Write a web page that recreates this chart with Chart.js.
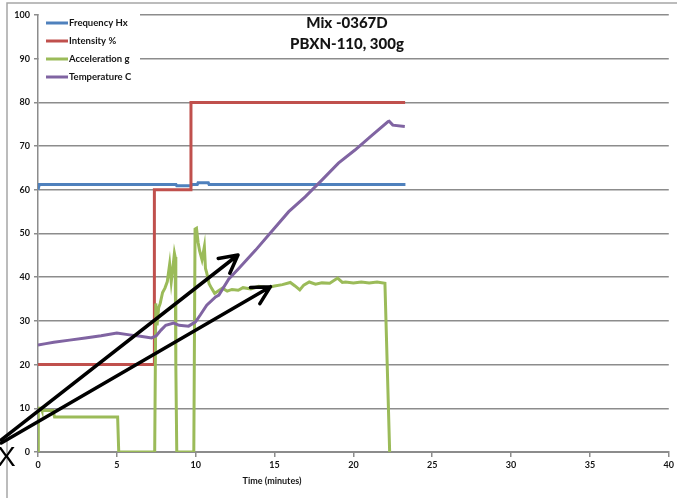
<!DOCTYPE html>
<html>
<head>
<meta charset="utf-8">
<title>Mix -0367D</title>
<script src="https://cdn.jsdelivr.net/npm/chart.js@4/dist/chart.umd.min.js"></script>
<style>
  html, body { margin: 0; padding: 0; background: #fff; }
  canvas { display: block; }
</style>
</head>
<body>
<canvas id="chart" width="677" height="498"></canvas>
<script>
const seriesNames = ['Frequency Hx', 'Intensity %', 'Acceleration g', 'Temperature C'];

// Frequency Hx
const freqTime  = [0, 0.08, 8.75, 8.8, 9.7, 9.75, 10.1, 10.15, 10.8, 10.85, 23.3];
const freqValue = [60, 61.2, 61.2, 60.9, 60.9, 61.2, 61.2, 61.6, 61.6, 61.2, 61.2];

// Intensity %
const intensityTime  = [0, 7.38, 7.38, 9.7, 9.7, 23.28];
const intensityValue = [20, 20, 60, 60, 80, 80];

// Acceleration g
const accelTime = [
  0, 0.02, 0.2, 0.25, 0.95, 1.05, 5.05, 5.12, 7.4, 7.47, 7.55, 7.65, 7.75, 7.9,
  8.05, 8.2, 8.35, 8.45, 8.55, 8.65, 8.7, 8.74, 8.8, 9.88, 9.96, 10.05, 10.15,
  10.25, 10.4, 10.55, 10.62, 10.7, 10.85, 11.0, 11.2, 11.4, 11.7, 12.0, 12.3,
  12.7, 13.0, 13.5, 14.0, 14.5, 15.0, 15.5, 16.0, 16.3, 16.6, 16.85, 17.2, 17.6,
  18.0, 18.5, 19.0, 19.3, 19.5, 20.0, 20.5, 21.0, 21.5, 22.0, 22.3, 22.34, 23.3
];
const accelValue = [
  0, 10, 10, 9.5, 9.5, 8, 8, 0, 0, 34, 29, 33, 34, 36.5,
  37.5, 39, 43, 39, 42, 45.5, 44.6, 20, 0, 0, 51, 51.2, 48,
  46, 44, 47, 42, 41, 38.5, 37.5, 36.3, 36.8, 37.5, 36.8,
  37.2, 37.0, 37.6, 37.3, 37.9, 37.6, 38.0, 38.3, 38.8, 38.0, 37.1, 38.2, 38.9,
  38.4, 38.7, 38.6, 39.8, 38.8, 38.9, 38.7, 38.9, 38.7, 38.9, 38.6, 0, 0
];

// Temperature C
const tempTime = [
  0, 0.5, 1, 2, 3, 4, 5.0, 5.8, 6.5, 7.2, 7.5, 7.8, 8.1, 8.6, 8.95, 9.55,
  9.99, 10.3, 10.7, 11.26, 11.47, 12.1, 12.73, 13.8, 14.8, 15.9, 16.94, 18.0,
  19.05, 20.1, 21.1, 22.2, 22.27, 22.5, 23.26
];
const tempValue = [
  24.5, 24.8, 25.1, 25.6, 26.1, 26.6, 27.2, 26.8, 26.5, 26.1, 26.6, 27.9, 29, 29.5, 29.0, 28.8,
  29.8, 31.4, 33.6, 35.5, 35.9, 39.6, 42, 46.2, 50.4, 55, 58.4, 62.2,
  66.1, 69.1, 72.2, 75.6, 75.7, 74.8, 74.5
];

const seriesColors = ['#4F81BD', '#C0504D', '#9BBB59', '#8064A2'];

const toPoints = (xs, ys) => xs.map((x, i) => ({ x, y: ys[i] }));

const seriesPoints = [
  toPoints(freqTime, freqValue),
  toPoints(intensityTime, intensityValue),
  toPoints(accelTime, accelValue),
  toPoints(tempTime, tempValue)
];

const FONT = 'Lato, "Open Sans", sans-serif';
const TEXT = '#141414';
const GRID = '#8c8c8c';

// two hand-drawn arrows, in data units (they start left of the axis)
const arrows = [
  { from: [-2.33, 2.75], to: [12.68, 45.08] },
  { from: [-2.33, 2.06], to: [14.74, 37.83] }
];

const decorations = {
  id: 'decorations',
  afterDraw(chart) {
    const ctx = chart.ctx;
    const xs = chart.scales.x, ys = chart.scales.y;
    ctx.save();

    // outer frame (top and left edges)
    ctx.strokeStyle = '#a6a6a6';
    ctx.lineWidth = 1.5;
    ctx.beginPath();
    ctx.moveTo(7, 498);
    ctx.lineTo(7, 3);
    ctx.lineTo(677, 3);
    ctx.stroke();

    // legend box over the top-left of the plot
    ctx.fillStyle = '#fff';
    ctx.fillRect(xs.left + 1, 8, 101, 79);
    ctx.font = 'bold 9.5px ' + FONT;
    ctx.textBaseline = 'middle';
    ctx.textAlign = 'left';
    chart.data.datasets.forEach((ds, i) => {
      const ly = 23 + i * 18;
      ctx.strokeStyle = ds.borderColor;
      ctx.lineWidth = 3;
      ctx.beginPath();
      ctx.moveTo(46, ly);
      ctx.lineTo(68, ly);
      ctx.stroke();
      ctx.fillStyle = TEXT;
      ctx.fillText(ds.label, 69, ly);
    });

    // chart title
    ctx.textAlign = 'center';
    ctx.fillStyle = TEXT;
    ctx.font = '900 15px ' + FONT;
    ctx.fillText('Mix -0367D', 347, 23);
    ctx.fillText('PBXN-110, 300g', 347, 44);

    // x axis title
    ctx.font = 'bold 9px ' + FONT;
    ctx.fillText('Time (minutes)', 272, 481);

    // marker letter
    ctx.font = '28px "Liberation Sans", Arial, sans-serif';
    ctx.textAlign = 'left';
    ctx.textBaseline = 'alphabetic';
    ctx.fillStyle = '#000';
    ctx.fillText('X', -3, 466);

    // arrows
    ctx.strokeStyle = '#000';
    ctx.lineWidth = 3.5;
    ctx.lineCap = 'round';
    ctx.lineJoin = 'round';
    arrows.forEach(a => {
      const x0 = xs.getPixelForValue(a.from[0]), y0 = ys.getPixelForValue(a.from[1]);
      const x1 = xs.getPixelForValue(a.to[0]), y1 = ys.getPixelForValue(a.to[1]);
      const back = Math.atan2(y0 - y1, x0 - x1);
      const head = 20, spread = 28 * Math.PI / 180;
      ctx.beginPath();
      ctx.moveTo(x0, y0);
      ctx.lineTo(x1, y1);
      ctx.moveTo(x1 + head * Math.cos(back + spread), y1 + head * Math.sin(back + spread));
      ctx.lineTo(x1, y1);
      ctx.lineTo(x1 + head * Math.cos(back - spread), y1 + head * Math.sin(back - spread));
      ctx.stroke();
    });

    ctx.restore();
  }
};

new Chart(document.getElementById('chart'), {
  type: 'line',
  data: {
    datasets: seriesNames.map((name, i) => ({
      label: name,
      data: seriesPoints[i],
      borderColor: seriesColors[i],
      backgroundColor: seriesColors[i],
      borderWidth: 3,
      pointRadius: 0,
      tension: 0,
      fill: false,
      order: seriesNames.length - i
    }))
  },
  options: {
    responsive: false,
    animation: false,
    devicePixelRatio: 1,
    layout: { padding: { left: 0, right: 5, top: 15, bottom: 0 } },
    plugins: {
      legend: { display: false },
      tooltip: { enabled: false },
      title: { display: false }
    },
    scales: {
      x: {
        type: 'linear',
        min: 0,
        max: 40,
        ticks: {
          stepSize: 5,
          color: TEXT,
          font: { family: FONT, size: 9, weight: 'bold' },
          padding: 3,
          maxRotation: 0
        },
        grid: { drawOnChartArea: false, drawTicks: true, tickLength: 5, color: GRID, lineWidth: 1.5 },
        border: { display: true, color: GRID, width: 2 },
        afterFit: s => { s.height = 46; }
      },
      y: {
        min: 0,
        max: 100,
        ticks: {
          stepSize: 10,
          color: TEXT,
          font: { family: FONT, size: 9, weight: 'bold' },
          padding: 4
        },
        grid: { color: GRID, lineWidth: 1.5, tickLength: 4 },
        border: { display: true, color: GRID, width: 1.5 },
        afterFit: s => { s.width = 38; }
      }
    }
  },
  plugins: [decorations]
});
</script>
</body>
</html>
